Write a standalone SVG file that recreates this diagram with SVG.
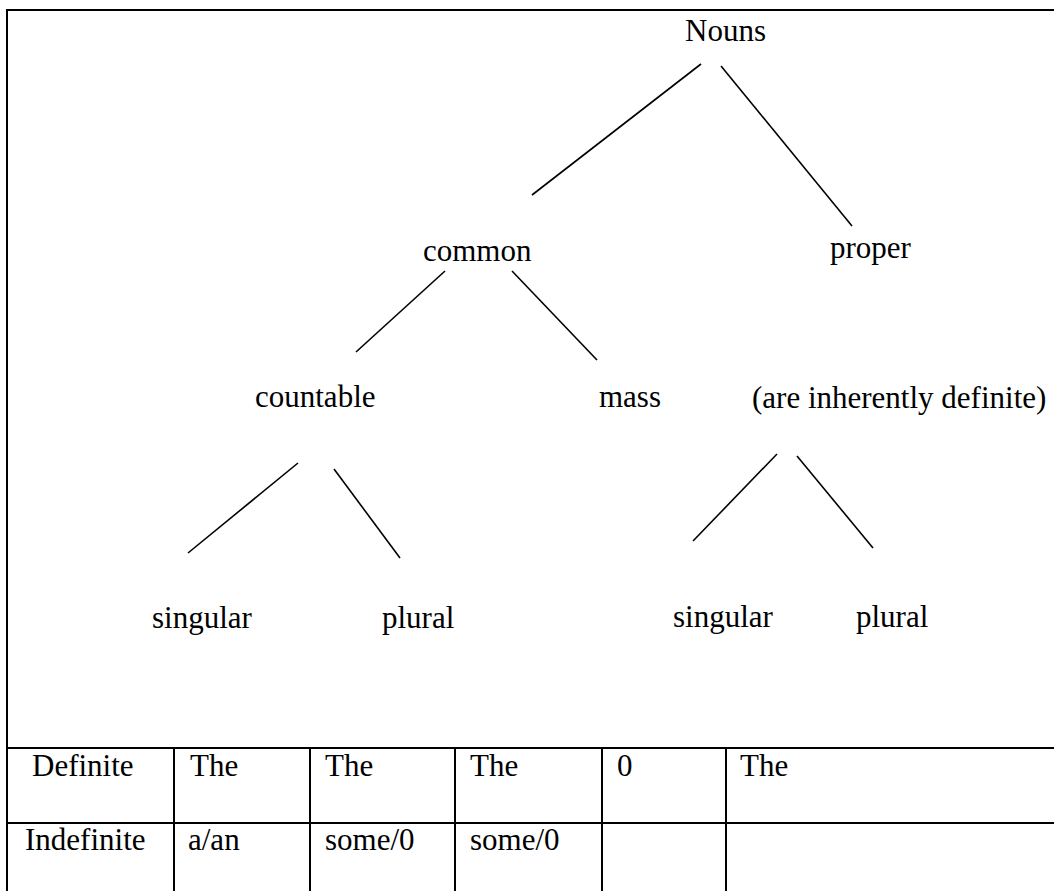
<svg xmlns="http://www.w3.org/2000/svg" width="1054" height="891" viewBox="0 0 1054 891">
<style>
text{font-family:"Liberation Serif","Times New Roman",serif;font-size:31px;fill:#000}
.b{stroke:#000;stroke-width:2;fill:none}
.c{stroke:#000;stroke-width:1.6;fill:none}
</style>
<rect width="1054" height="891" fill="#fff"/>
<g id="frame">
<line class="b" x1="7" y1="10" x2="1054" y2="10"/>
<line class="b" x1="7" y1="9" x2="7" y2="891"/>
</g>
<g id="table">
<line class="b" x1="7" y1="748" x2="1054" y2="748"/>
<line class="b" x1="7" y1="823" x2="1054" y2="823"/>
<line class="b" x1="174" y1="748" x2="174" y2="891"/>
<line class="b" x1="310" y1="748" x2="310" y2="891"/>
<line class="b" x1="455" y1="748" x2="455" y2="891"/>
<line class="b" x1="602" y1="748" x2="602" y2="891"/>
<line class="b" x1="726" y1="748" x2="726" y2="891"/>
<text x="32" y="776">Definite</text>
<text x="190" y="776">The</text>
<text x="325" y="776">The</text>
<text x="470" y="776">The</text>
<text x="617" y="776">0</text>
<text x="740" y="776">The</text>
<text x="25" y="850">Indefinite</text>
<text x="188" y="850">a/an</text>
<text x="325" y="850">some/0</text>
<text x="470" y="850">some/0</text>
</g>
<g id="connectors">
<line class="c" x1="701" y1="64" x2="532" y2="195"/>
<line class="c" x1="721" y1="66" x2="852" y2="226"/>
<line class="c" x1="445" y1="271" x2="356" y2="352"/>
<line class="c" x1="512" y1="271" x2="597" y2="360"/>
<line class="c" x1="298" y1="463" x2="188" y2="553"/>
<line class="c" x1="334" y1="469" x2="400" y2="558"/>
<line class="c" x1="777" y1="454" x2="693" y2="541"/>
<line class="c" x1="797" y1="456" x2="873" y2="548"/>
</g>
<g id="node-nouns"><text x="685" y="41">Nouns</text></g>
<g id="node-common"><text x="423" y="261">common</text></g>
<g id="node-proper"><text x="830" y="258">proper</text></g>
<g id="node-countable"><text x="255" y="407">countable</text></g>
<g id="node-mass"><text x="599" y="407">mass</text></g>
<g id="node-definite"><text x="752" y="408">(are inherently definite)</text></g>
<g id="node-singular1"><text x="152" y="628">singular</text></g>
<g id="node-plural1"><text x="382" y="628">plural</text></g>
<g id="node-singular2"><text x="673" y="627">singular</text></g>
<g id="node-plural2"><text x="856" y="627">plural</text></g>
</svg>
